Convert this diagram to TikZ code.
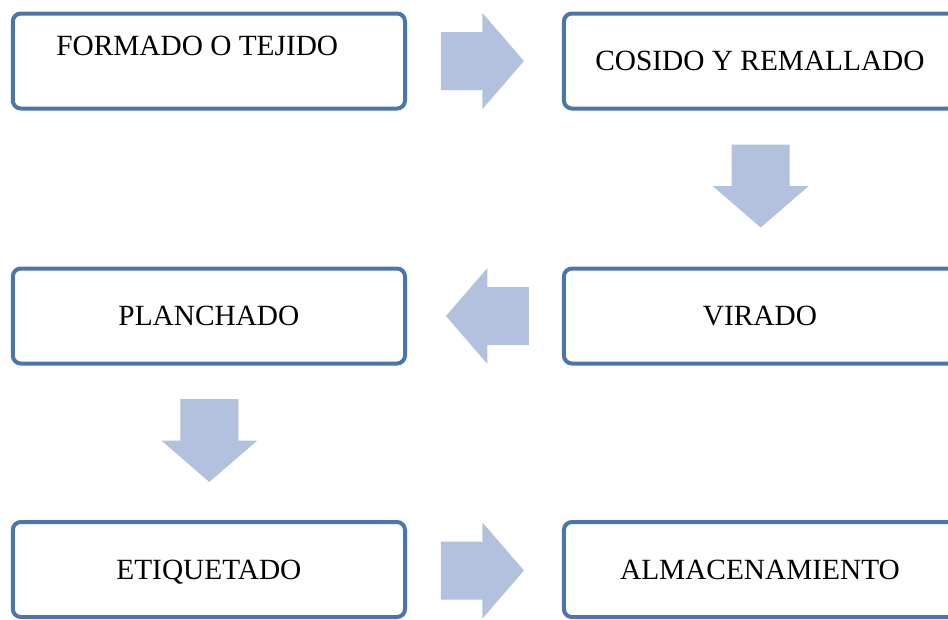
\documentclass[tikz,border=0pt]{standalone}
\usepackage{fontspec}
\setmainfont{Liberation Serif}
\usetikzlibrary{calc}
\definecolor{boxblue}{HTML}{4A76AC}
\definecolor{arrowblue}{HTML}{B2C1DD}
\tikzset{
  stepbox/.style={draw=boxblue, line width=3pt, rounded corners=6pt, fill=white,
    minimum width=294.15pt, minimum height=71.25pt, inner sep=0pt,
    font=\fontsize{22}{26}\selectfont, text height=14.4pt, text depth=0pt},
  steplabel/.style={inner sep=0pt, font=\fontsize{22}{26}\selectfont},
  blockarrow/.pic={
    \fill[arrowblue] (-41.5,-29) -- (0,-29) -- (0,-48) -- (41.5,0) -- (0,48)
      -- (0,29) -- (-41.5,29) -- cycle;
  }
}
\begin{document}
\begin{tikzpicture}[x=0.75pt,y=-0.75pt]
\useasboundingbox (0,0) rectangle (948,619);
\clip (0,0) rectangle (948,619);
\fill[white] (0,0) rectangle (948,619);

% boxes
\node[stepbox] (formado) at (208.9,61) {};
\node[steplabel, anchor=base west] (formadot) at (56,55) {FORMADO O TEJIDO};
\node[stepbox] (cosido) at (760,61) {COSIDO Y REMALLADO};
\node[stepbox] (virado) at (760,316) {VIRADO};
\node[stepbox] (planchado) at (208.9,316) {PLANCHADO};
\node[stepbox] (etiquetado) at (208.9,569.5) {ETIQUETADO};
\node[stepbox] (almacen) at (760,569.5) {ALMACENAMIENTO};

% block arrows between boxes
\coordinate (a1) at ($(formado.east)!0.5!(cosido.west)+(-2,0)$);
\coordinate (a2) at (760.7,186);
\coordinate (a3) at ($(planchado.east)!0.5!(virado.west)+(3,0)$);
\coordinate (a4) at (209.3,440.5);
\coordinate (a5) at ($(etiquetado.east)!0.5!(almacen.west)+(-2,1)$);
\pic (arr1) at (a1) {blockarrow};
\pic[rotate=-90] (arr2) at (a2) {blockarrow};
\pic[rotate=180] (arr3) at (a3) {blockarrow};
\pic[rotate=-90] (arr4) at (a4) {blockarrow};
\pic (arr5) at (a5) {blockarrow};
\end{tikzpicture}
\end{document}
